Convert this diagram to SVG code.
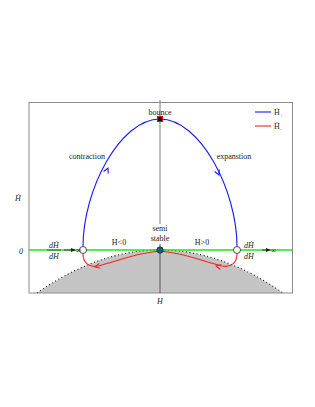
<svg xmlns="http://www.w3.org/2000/svg" width="315" height="407" viewBox="0 0 315 407">
<style>
text{font-family:"Liberation Serif","Times New Roman",serif;font-size:8px;fill:#222}
.it{font-style:italic}
.blue{fill:none;stroke:#1a1aff;stroke-width:1.1}
.red{fill:none;stroke:#ff2020;stroke-width:1.1}
.ah{fill:none;stroke-linejoin:miter;stroke-width:1.1}
</style>
<defs>
<marker id="arr" viewBox="0 0 6 6" refX="5" refY="3" markerWidth="5" markerHeight="5" orient="auto" markerUnits="userSpaceOnUse">
<path d="M0,0.5 L6,3 L0,5.5 Z" fill="#222"/>
</marker>
</defs>
<rect width="315" height="407" fill="#fff"/>
<g id="region">
<path d="M37,293 Q98.5,250 160,250 Q221.5,250 283,293 Z" fill="#c4c4c4"/>
<path d="M37,293 Q98.5,250 160,250 Q221.5,250 283,293" fill="none" stroke="#111" stroke-width="1.1" stroke-dasharray="1 2.6"/>
</g>
<g id="frame">
<rect x="29" y="102.5" width="263.5" height="190.5" fill="none" stroke="#8a8a8a" stroke-width="1"/>
<line x1="160" y1="100" x2="160" y2="224" stroke="#7a7a7a" stroke-width="1"/>
<line x1="160" y1="244" x2="160" y2="293" stroke="#555" stroke-width="1"/>
<line x1="29" y1="250" x2="293" y2="250" stroke="#22e022" stroke-width="1.4"/>
</g>
<g id="connectors">
<path class="blue" d="M83,246.5 C83,190 120,119 160,119 C200,119 237,190 237,246.5"/>
<path class="ah" stroke="#1a1aff" d="M103.6,171.5 L108,168 L108.2,173.6"/>
<path class="ah" stroke="#1a1aff" d="M219.2,169.4 L219,175 L214.6,171.5"/>
<path class="red" d="M160,251 C185,253 205,262 222,266 C232,268 237,262 237,253.5"/>
<path class="red" d="M160,251 C135,253 115,262 98,266 C88,268 83,262 83,253.5"/>
<path class="ah" stroke="#ff2020" d="M221.4,264.6 L216,266 L220.4,269.5"/>
<path class="ah" stroke="#ff2020" d="M100.5,268.2 L95,267 L99.2,263.3"/>
<line x1="64" y1="250" x2="75" y2="250" stroke="#222" stroke-width="0.8" marker-end="url(#arr)"/>
<line x1="262" y1="250" x2="270" y2="250" stroke="#222" stroke-width="0.8" marker-end="url(#arr)"/>
</g>
<g id="bounce">
<rect x="157.5" y="116.5" width="5" height="5" fill="#111" stroke="#e01010" stroke-width="1"/>
<text x="160" y="115" text-anchor="middle">bounce</text>
</g>
<g id="semistable">
<circle cx="160" cy="250" r="3.2" fill="#1d5f78" stroke="#111" stroke-width="0.6"/>
<text x="160" y="231" text-anchor="middle">semi</text>
<text x="160" y="241" text-anchor="middle">stable</text>
</g>
<g id="left-point">
<circle cx="83" cy="250" r="3.5" fill="#fff" stroke="#222" stroke-width="0.8"/>
<text x="54" y="247.5" text-anchor="middle" class="it">dḢ</text>
<line x1="47" y1="250" x2="61" y2="250" stroke="#222" stroke-width="0.7"/>
<text x="54" y="258.5" text-anchor="middle" class="it">dH</text>
<text x="75.5" y="252.5">∞</text>
</g>
<g id="right-point">
<circle cx="237" cy="250" r="3.5" fill="#fff" stroke="#222" stroke-width="0.8"/>
<text x="249" y="247.5" text-anchor="middle" class="it">dḢ</text>
<text x="249" y="258.5" text-anchor="middle" class="it">dH</text>
<text x="270.5" y="252.5">∞</text>
</g>
<g id="labels">
<text x="87" y="159" text-anchor="middle">contraction</text>
<text x="234" y="159" text-anchor="middle">expanstion</text>
<text x="119" y="245" text-anchor="middle">H&lt;0</text>
<text x="202" y="245" text-anchor="middle">H&gt;0</text>
<text x="21" y="254" text-anchor="middle" class="it">0</text>
<text x="18" y="201" text-anchor="middle" class="it">Ḣ</text>
<text x="160" y="304" text-anchor="middle" class="it">H</text>
</g>
<g id="legend">
<line x1="255" y1="112" x2="271" y2="112" stroke="#1a1aff" stroke-width="1.1"/>
<text x="274" y="115">Ḣ<tspan font-size="5" dy="1.5">+</tspan></text>
<line x1="255" y1="126" x2="271" y2="126" stroke="#ff2020" stroke-width="1.1"/>
<text x="274" y="129">Ḣ<tspan font-size="5" dy="1.5">−</tspan></text>
</g>
</svg>
